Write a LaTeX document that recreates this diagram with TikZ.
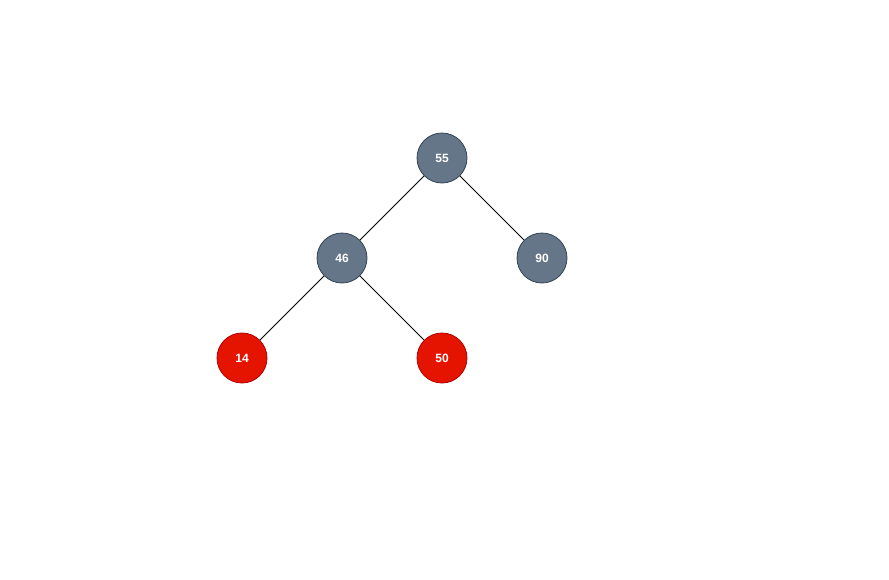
\documentclass[tikz,border=0pt]{standalone}
\usepackage{fontspec}
\setmainfont{Liberation Sans}
\definecolor{blackfill}{HTML}{647687}
\definecolor{blackline}{HTML}{314354}
\definecolor{redfill}{HTML}{E51400}
\definecolor{redline}{HTML}{B20000}
\begin{document}
\begin{tikzpicture}[x=1pt,y=-1pt,
  tnode/.style={circle,minimum size=50pt,inner sep=0pt,line width=0.8pt,
    text=white,font=\fontsize{12}{14}\selectfont\bfseries},
  blacknode/.style={tnode,fill=blackfill,draw=blackline},
  rednode/.style={tnode,fill=redfill,draw=redline},
  edge/.style={draw=black,line width=0.8pt}]
\useasboundingbox[fill=white] (0,0) rectangle (889,579);
\node[blacknode] (n55) at (442,158) {55};
\node[blacknode] (n46) at (342,258) {46};
\node[blacknode] (n90) at (542,258) {90};
\node[rednode] (n14) at (242,358) {14};
\node[rednode] (n50) at (442,358) {50};
\draw[edge] (n55) -- (n46);
\draw[edge] (n55) -- (n90);
\draw[edge] (n46) -- (n14);
\draw[edge] (n46) -- (n50);
\end{tikzpicture}
\end{document}
